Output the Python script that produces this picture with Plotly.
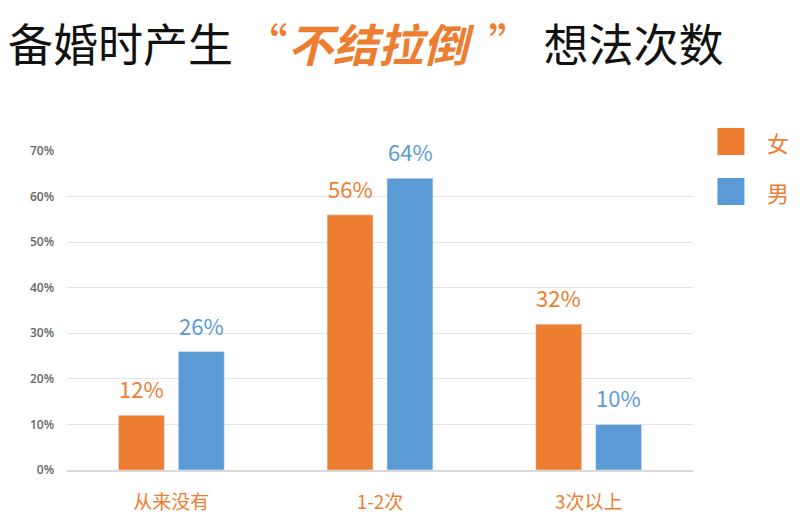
import plotly.graph_objects as go

categories = ["从来没有", "1-2次", "3次以上"]
female = [0.12, 0.56, 0.32]
male = [0.26, 0.64, 0.10]
series_names = ["女", "男"]
y_ticks = [0, 0.1, 0.2, 0.3, 0.4, 0.5, 0.6, 0.7]
y_tick_labels = ["0%", "10%", "20%", "30%", "40%", "50%", "60%", "70%"]

ORANGE = "#ED7D31"
BLUE = "#5B9BD5"
CJK = "Noto Sans CJK SC"

# page has an 8px body margin; compensate so the screenshot lines up
OFF = 8
W, H = 800, 517
ml, mt = 66.5 - OFF, 151 - OFF
pw, ph = 627, 319
mr, mb = W - ml - pw, H - mt - ph

def px_x(x):
    return (x - OFF - ml) / pw

def px_y(y):
    return 1 - (y - OFF - mt) / ph

fig = go.Figure()
fig.add_trace(go.Bar(x=categories, y=female, name=series_names[0], marker_color=ORANGE))
fig.add_trace(go.Bar(x=categories, y=male, name=series_names[1], marker_color=BLUE))

annotations = []
for i, c in enumerate(categories):
    for vals, col, shift in ((female, ORANGE, -30), (male, BLUE, 30)):
        annotations.append(dict(
            x=c, y=vals[i], xref="x", yref="y", text=f"{round(vals[i]*100)}%",
            showarrow=False, xshift=shift, yshift=27,
            font=dict(family=CJK, size=22, color=col)))

# title
annotations.append(dict(
    x=px_x(5), y=px_y(42), xref="paper", yref="paper", xanchor="left", yanchor="middle",
    text="备婚时产生<span style='color:#ED7D31'> “<b><i>不结拉倒</i></b>  ” </span>想法次数",
    showarrow=False, font=dict(family=CJK, size=45, color="#111111")))

# legend
for name, ly in ((series_names[0], 142), (series_names[1], 192)):
    annotations.append(dict(x=px_x(779), y=px_y(ly), xref="paper", yref="paper",
                            xanchor="center", yanchor="middle", text=name,
                            showarrow=False, font=dict(family=CJK, size=22, color=ORANGE)))

shapes = [
    dict(type="rect", xref="paper", yref="paper", x0=px_x(718), x1=px_x(745),
         y0=px_y(155), y1=px_y(128), fillcolor=ORANGE, line_width=0),
    dict(type="rect", xref="paper", yref="paper", x0=px_x(718), x1=px_x(745),
         y0=px_y(205), y1=px_y(178), fillcolor=BLUE, line_width=0),
]

fig.update_layout(
    width=W, height=H,
    margin=dict(l=ml, r=mr, t=mt, b=mb, pad=0),
    plot_bgcolor="white", paper_bgcolor="white",
    barmode="group", bargap=0.426, bargroupgap=0.233,
    showlegend=False,
    annotations=annotations, shapes=shapes,
    xaxis=dict(showgrid=False, showline=True, linecolor="#d9d9d9", linewidth=1.5,
               tickfont=dict(family=CJK, size=19, color=ORANGE), ticks="",
               ticklabelstandoff=14),
    yaxis=dict(range=[0, 0.7], tickvals=y_ticks, ticktext=y_tick_labels,
               showgrid=True, gridcolor="#e3e3e3", gridwidth=1, zeroline=False,
               tickfont=dict(family="Open Sans", size=12, color="#666666", weight=600),
               ticks="", ticklabelstandoff=12),
)

fig.write_html("out.html")
